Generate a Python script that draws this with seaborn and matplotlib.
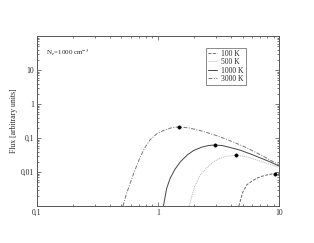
import pandas as pd
import seaborn as sns
import numpy as np
import matplotlib.pyplot as plt

# values (wavelength, flux)
x_100 = [4.65, 5.0, 5.4, 6.0, 6.55, 7.2, 7.9, 8.6, 9.3, 10.0]
y_100 = [0.001, 0.0025, 0.0042, 0.0055, 0.0066, 0.0075, 0.0082, 0.0087, 0.0090, 0.0090]

x_500 = [1.81, 2.0, 2.23, 2.5, 2.87, 3.3, 3.7, 4.4, 5.2, 6.0, 7.0, 8.3, 10.0]
y_500 = [0.001, 0.0036, 0.0081, 0.013, 0.02, 0.026, 0.029, 0.031, 0.029, 0.025, 0.021, 0.017, 0.014]

x_1000 = [1.11, 1.18, 1.26, 1.38, 1.53, 1.75, 1.97, 2.3, 2.6, 2.93, 3.4, 4.0, 4.77, 5.8, 7.0, 8.4, 10.0]
y_1000 = [0.001, 0.0033, 0.0065, 0.012, 0.02, 0.032, 0.043, 0.054, 0.060, 0.0625, 0.060, 0.052, 0.044, 0.034, 0.026, 0.020, 0.015]

x_3000 = [0.514, 0.55, 0.59, 0.65, 0.715, 0.78, 0.86, 0.97, 1.11, 1.28, 1.48, 1.8, 2.23, 2.9, 3.5, 4.2, 5.2, 6.5, 8.0, 10.0]
y_3000 = [0.001, 0.0023, 0.0047, 0.012, 0.028, 0.052, 0.088, 0.13, 0.166, 0.198, 0.213, 0.198, 0.166, 0.125, 0.098, 0.076, 0.055, 0.037, 0.025, 0.016]

peak_x = [9.3, 4.4, 2.93, 1.48]
peak_y = [0.0090, 0.031, 0.0625, 0.213]

labels = ['100 K', '500 K', '1000 K', '3000 K']
styles = [(0, (3, 1.5)), (0, (1, 1)), '-', (0, (4, 1.5, 1, 1.5))]
colors = ['#666666', '#b5b5b5', '#444444', '#777777']

sns.set_style("ticks")
plt.rcParams['font.family'] = ['Liberation Serif', 'DejaVu Serif']
plt.rcParams['mathtext.fontset'] = 'stix'

fig = plt.figure(figsize=(3.14, 2.43), dpi=100)
ax = fig.add_axes([0.117, 0.152, 0.772, 0.700])

curves = [(x_100, y_100), (x_500, y_500), (x_1000, y_1000), (x_3000, y_3000)]
for (xs, ys), lab, ls, c in zip(curves, labels, styles, colors):
    df = pd.DataFrame({'x': xs, 'y': ys})
    sns.lineplot(data=df, x='x', y='y', ax=ax, color=c, linestyle=ls,
                 linewidth=0.7, label=lab, sort=False)

sns.scatterplot(x=peak_x, y=peak_y, ax=ax, color='black', s=6, edgecolor='black',
                linewidth=0.3, zorder=5)

ax.set_xscale('log')
ax.set_yscale('log')
ax.set_xlim(0.1, 10)
ax.set_ylim(0.001, 100)
ax.set_xticks([0.1, 1, 10])
ax.set_xticklabels(['0,1', '1', '10'])
ax.set_yticks([0.01, 0.1, 1, 10])
ax.set_yticklabels(['0,01', '0,1', '1', '10'])
ax.set_xlabel('')
ax.set_ylabel('Flux [arbitrary units]', fontsize=5.5, labelpad=2)

ax.tick_params(which='both', direction='in', top=True, right=True, labelsize=5.5,
               width=0.5, color='#444444', pad=2)
ax.tick_params(which='major', length=3)
ax.tick_params(which='minor', length=1.5)
for s in ax.spines.values():
    s.set_linewidth(0.7)
    s.set_color('#555555')

ax.text(0.04, 0.93, r'N$_e$=1000 cm$^{-3}$', transform=ax.transAxes, fontsize=5,
        va='top', ha='left')

leg = ax.legend(loc='upper left', bbox_to_anchor=(0.70, 0.93), fontsize=5.5,
                frameon=True, fancybox=False, handlelength=1.1, borderpad=0.25,
                labelspacing=0.05, handletextpad=0.6, borderaxespad=0)
leg.get_frame().set_edgecolor('#555555')
leg.get_frame().set_linewidth(0.6)

fig.savefig('out.png', dpi=100)
